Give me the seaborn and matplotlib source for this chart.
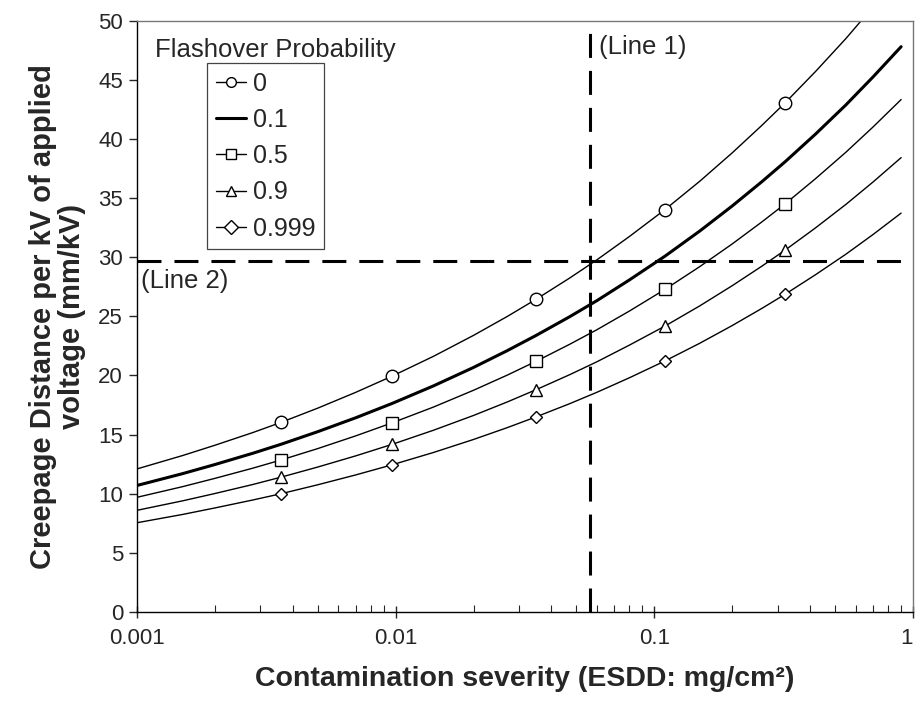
import matplotlib
matplotlib.use("Agg")
import matplotlib.pyplot as plt
from matplotlib.ticker import LogLocator, NullFormatter
from matplotlib.transforms import blended_transform_factory
import seaborn as sns

# ---- data ----
esdd = [0.001, 0.0015, 0.002, 0.0028, 0.0036, 0.005, 0.007, 0.0097, 0.014, 0.02, 0.027,
        0.035, 0.047, 0.06, 0.08, 0.11, 0.15, 0.2, 0.26, 0.32, 0.42, 0.55, 0.7, 0.9]
marker_idx = [4, 7, 11, 15, 19]
p_000 = [12.1, 13.23, 14.10, 15.17, 16.03, 17.24, 18.57, 19.95, 21.62, 23.39, 24.99, 26.46,
         28.23, 29.78, 31.74, 34.03, 36.43, 38.82, 41.13, 43.04, 45.70, 48.48, 51.15, 54.05]
p_010 = [10.7, 11.70, 12.47, 13.42, 14.18, 15.25, 16.42, 17.64, 19.12, 20.68, 22.10, 23.40,
         24.96, 26.33, 28.07, 30.09, 32.22, 34.33, 36.37, 38.06, 40.41, 42.87, 45.23, 47.80]
p_050 = [9.7, 10.60, 11.30, 12.16, 12.85, 13.82, 14.89, 16.00, 17.33, 18.75, 20.03, 21.21,
         22.63, 23.87, 25.44, 27.28, 29.21, 31.12, 32.97, 34.50, 36.64, 38.87, 41.00, 43.33]
p_090 = [8.6, 9.40, 10.02, 10.78, 11.40, 12.26, 13.20, 14.18, 15.37, 16.62, 17.76, 18.81,
         20.06, 21.16, 22.56, 24.18, 25.89, 27.59, 29.23, 30.59, 32.48, 34.46, 36.35, 38.42]
p_999 = [7.55, 8.25, 8.80, 9.47, 10.00, 10.76, 11.59, 12.45, 13.49, 14.59, 15.59, 16.51,
         17.61, 18.58, 19.80, 21.23, 22.73, 24.22, 25.66, 26.86, 28.52, 30.25, 31.91, 33.73]
series_labels = ["0", "0.1", "0.5", "0.9", "0.999"]
line1_x = 0.0565
line2_y = 29.7
x_ticks = [0.001, 0.01, 0.1, 1]
x_tick_labels = ["0.001", "0.01", "0.1", "1"]
y_ticks = [0, 5, 10, 15, 20, 25, 30, 35, 40, 45, 50]

sns.set_style("ticks")
plt.rcParams["font.family"] = ["Liberation Sans", "DejaVu Sans"]

fig = plt.figure(figsize=(9.17, 7.03), dpi=100)
ax = fig.add_axes([0.1494, 0.1294, 0.8462, 0.8412])

styles = [
    dict(marker="o", markersize=9, linewidth=1.0),
    dict(marker=None, linewidth=2.2),
    dict(marker="s", markersize=8.5, linewidth=1.0),
    dict(marker="^", markersize=9, linewidth=1.0),
    dict(marker="D", markersize=6.5, linewidth=1.0),
]
for ys, lab, st in zip([p_000, p_010, p_050, p_090, p_999], series_labels, styles):
    kw = dict(color="black", linewidth=st["linewidth"], label=lab)
    if st["marker"]:
        kw.update(marker=st["marker"], markersize=st["markersize"], markevery=marker_idx,
                  markerfacecolor="white", markeredgecolor="black", markeredgewidth=1.0)
    sns.lineplot(x=esdd, y=ys, ax=ax, sort=False, **kw)

ax.axvline(line1_x, color="black", linewidth=2.2, dashes=(7.85, 4.25), zorder=1)
ax.axhline(line2_y, color="black", linewidth=2.2, dashes=(7.85, 4.25), zorder=1)

ax.set_xscale("log")
ax.set_xlim(0.001, 1)
ax.set_ylim(0, 50)
ax.set_xticks(x_ticks)
ax.set_xticklabels(x_tick_labels)
ax.xaxis.set_minor_locator(LogLocator(base=10, subs=range(2, 10)))
ax.xaxis.set_minor_formatter(NullFormatter())
ax.set_yticks(y_ticks)

ax.tick_params(axis="x", which="major", direction="inout", length=9, width=1, labelsize=16, pad=7)
ax.tick_params(axis="x", which="minor", direction="in", length=5, width=0.8)
ax.tick_params(axis="y", which="major", direction="out", length=6, width=1, labelsize=16, pad=4)
# keep the last x tick label ("1") inside the figure
ax.get_xticklabels()[-1].set_horizontalalignment("right")

for s in ax.spines.values():
    s.set_visible(True)
    s.set_linewidth(1.0)
    s.set_color("black")
ax.spines["top"].set_color("#777777")
ax.spines["right"].set_color("#777777")

ax.set_xlabel("Contamination severity (ESDD: mg/cm²)", fontsize=20.5, fontweight="bold", labelpad=12)
ax.set_ylabel("Creepage Distance per kV of applied\nvoltage (mm/kV)", fontsize=21,
              fontweight="bold", labelpad=9, linespacing=1.05)

ax.text(line1_x * 1.08, 47.8, "(Line 1)", fontsize=18.5, ha="left", va="center")
ax.text(0.00104, 28.0, "(Line 2)", fontsize=18.5, ha="left", va="center")
ax.text(0.023, 47.5, "Flashover Probability", fontsize=18.5, ha="left", va="center",
        transform=blended_transform_factory(ax.transAxes, ax.transData))

leg = ax.legend(loc="upper left", bbox_to_anchor=(0.090, 0.9285), frameon=True, fancybox=False,
                fontsize=18, handlelength=1.2, handletextpad=0.3, borderpad=0.35,
                labelspacing=0.49, borderaxespad=0.0, framealpha=1)
leg.get_frame().set_edgecolor("#444444")
leg.get_frame().set_linewidth(0.9)
for h in leg.legend_handles:
    h.set_markersize(7)

fig.savefig("out.png", dpi=100)
